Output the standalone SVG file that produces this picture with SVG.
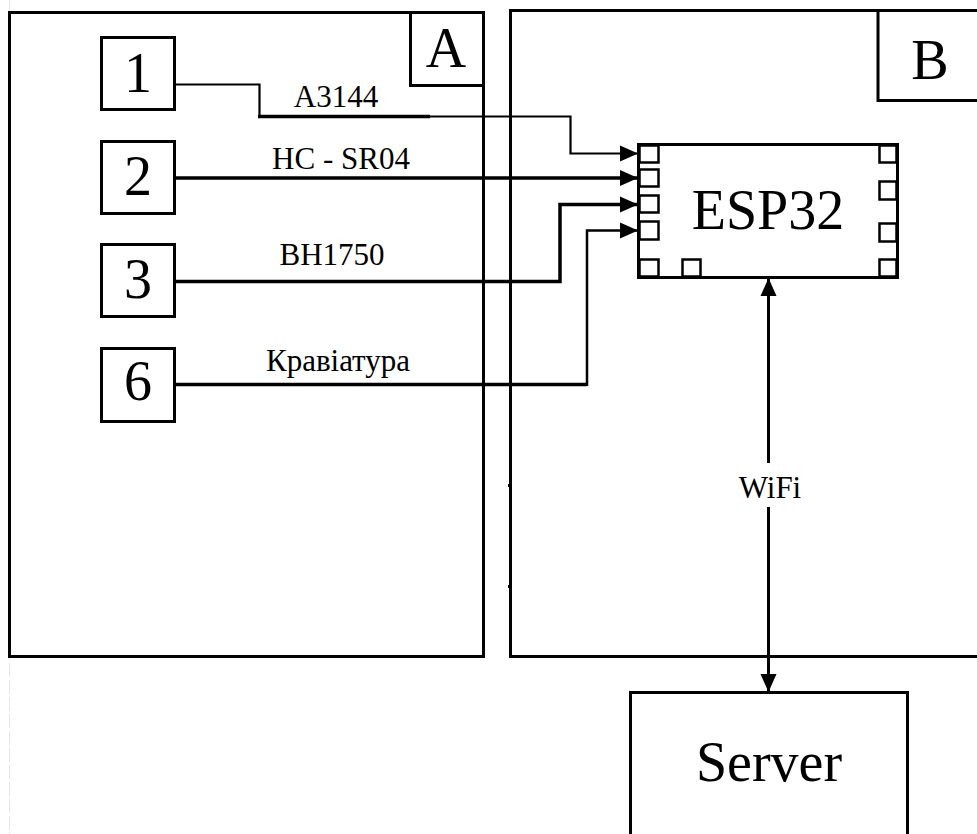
<svg xmlns="http://www.w3.org/2000/svg" width="977" height="834" viewBox="0 0 977 834">
<style>
.frame{fill:none;stroke:#000;stroke-width:3}
.box{fill:#fff;stroke:#000;stroke-width:3}
.pin{fill:#fff;stroke:#000;stroke-width:2.5}
.big{font-family:'Liberation Serif','Times New Roman',Tinos,'DejaVu Serif',serif;font-size:56px;fill:#000;text-anchor:middle}
.lbl{font-family:'Liberation Serif','Times New Roman',Tinos,'DejaVu Serif',serif;font-size:31px;fill:#000;text-anchor:middle}
.w{fill:none;stroke:#000;stroke-linejoin:miter}
</style>
<defs>
<marker id="ah" markerUnits="userSpaceOnUse" markerWidth="18" markerHeight="18" refX="18" refY="8" orient="auto-start-reverse" viewBox="0 0 18 16">
<path d="M0,0 L18,8 L0,16 z" fill="#000"/>
</marker>
</defs>
<rect width="977" height="834" fill="#fff"/>
<line x1="9.5" y1="0" x2="9.5" y2="834" stroke="#e6e6e6" stroke-width="1" stroke-dasharray="14 3"/>

<g id="boxA">
<rect class="frame" x="9.5" y="12.5" width="474" height="644"/>
</g>
<g id="labelA">
<path class="frame" d="M410.5,12.5 V85.5 H483.5"/>
<text class="big" x="446" y="67">A</text>
</g>
<g id="boxB">
<path class="frame" d="M985,10.5 H510.5 V656.5 H985"/>
<rect x="508" y="484" width="3" height="3" fill="#000"/>
<rect x="508" y="585" width="3" height="3" fill="#000"/>
</g>
<g id="labelB">
<path class="frame" d="M878,10.5 V100.5 H985"/>
<text class="big" x="930" y="79">B</text>
</g>

<g id="n1">
<rect class="box" x="101.5" y="37.5" width="73" height="72"/>
<text class="big" x="138" y="92">1</text>
</g>
<g id="n2">
<rect class="box" x="101.5" y="141.5" width="73" height="72"/>
<text class="big" x="138" y="195">2</text>
</g>
<g id="n3">
<rect class="box" x="101.5" y="244.5" width="73" height="72"/>
<text class="big" x="138" y="298">3</text>
</g>
<g id="n6">
<rect class="box" x="101.5" y="348.5" width="73" height="73"/>
<text class="big" x="138" y="400">6</text>
</g>

<g id="esp32">
<rect class="box" x="638.5" y="144.5" width="259" height="133"/>
<rect class="pin" x="639.5" y="145.5" width="19" height="17"/>
<rect class="pin" x="639.5" y="169.5" width="19" height="17"/>
<rect class="pin" x="639.5" y="195.5" width="19" height="17"/>
<rect class="pin" x="639.5" y="221.5" width="19" height="18"/>
<rect class="pin" x="639.5" y="259.5" width="19" height="17"/>
<rect class="pin" x="682.5" y="259.5" width="18" height="17"/>
<rect class="pin" x="879.5" y="145.5" width="17" height="17"/>
<rect class="pin" x="879.5" y="181.5" width="17" height="18"/>
<rect class="pin" x="879.5" y="223.5" width="17" height="18"/>
<rect class="pin" x="879.5" y="259.5" width="17" height="17"/>
<text class="big" x="768" y="229">ESP32</text>
</g>

<g id="server">
<rect class="box" x="630.5" y="692.5" width="277" height="160"/>
<text class="big" x="769" y="781">Server</text>
</g>

<g id="connectors">
<path class="w" stroke-width="2.2" d="M175,84.5 H259.5 V116"/>
<path class="w" stroke-width="3.5" d="M258,116.5 H430"/>
<path class="w" stroke-width="2.2" marker-end="url(#ah)" d="M430,116.5 H570.5 V153.5 H638"/>
<path class="w" stroke-width="3.5" marker-end="url(#ah)" d="M175,178 H638"/>
<path class="w" stroke-width="3.5" marker-end="url(#ah)" d="M175,281.5 H560 V204.5 H638"/>
<path class="w" stroke-width="3.5" d="M175,384.5 H587"/>
<path class="w" stroke-width="2.5" marker-end="url(#ah)" d="M587,386 V230.5 H638"/>
<path class="w" stroke-width="3" marker-start="url(#ah)" marker-end="url(#ah)" d="M768.5,278 V463 M768.5,507 V692"/>
<text class="lbl" x="336" y="107">A3144</text>
<text class="lbl" x="341" y="169">HC - SR04</text>
<text class="lbl" x="332" y="265">BH1750</text>
<text class="lbl" x="338" y="371">Кравіатура</text>
<text class="lbl" x="770" y="498">WiFi</text>
</g>
</svg>
